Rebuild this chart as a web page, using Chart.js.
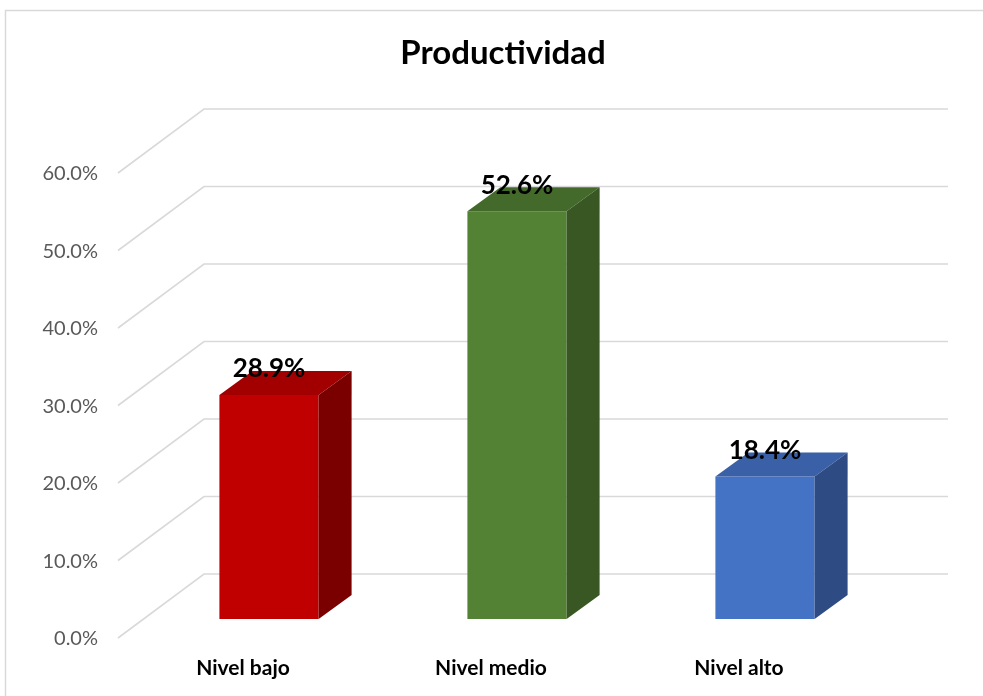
<!DOCTYPE html>
<html>
<head>
<meta charset="utf-8">
<title>Productividad</title>
<script src="https://cdn.jsdelivr.net/npm/chart.js@4.4.1/dist/chart.umd.min.js"></script>
<style>
    body { margin: 0; background: #fff; }
    canvas { display: block; }
</style>
</head>
<body>
<canvas id="chartData" width="983" height="696"></canvas>
<script>
    const chartTitle = "Productividad";
    const categories = ["Nivel bajo", "Nivel medio", "Nivel alto"];
    const percentages = [28.9, 52.6, 18.4];
    const tickValues = [0, 10, 20, 30, 40, 50, 60];

    const frontColors = ["#C00000", "#548235", "#4472C4"];
    const topColors = ["#A20000", "#43692B", "#3A61A8"];
    const sideColors = ["#7A0000", "#385723", "#2E4B84"];

    // depth of the bars and of the walls (excel 3d look)
    const DX = 33, DY = 24;
    const BACK_DX = 59, BACK_DY = 45;
    const FRONT_DX = -27, FRONT_DY = 19;

    const ctx = document.getElementById("chartData");

    // outer border + title (title is centred on the whole picture, not the plot)
    const frame = {
        id: "frame",
        beforeDraw(chart) {
            const c = chart.ctx;
            c.save();
            c.strokeStyle = "#d9d9d9";
            c.lineWidth = 1.5;
            c.strokeRect(5.5, 10.5, 1200, 1200);
            c.fillStyle = "#000";
            c.font = "bold 33px Lato";
            c.textAlign = "center";
            c.textBaseline = "middle";
            c.fillText(chartTitle, 503, 53);
            c.restore();
        }
    };

    const walls = {
        id: "walls",
        beforeDatasetsDraw(chart) {
            const c = chart.ctx;
            const y = chart.scales.y;
            const area = chart.chartArea;
            c.save();
            c.strokeStyle = "#d9d9d9";
            c.lineWidth = 1.6;
            tickValues.forEach(v => {
                const py = y.getPixelForValue(v);
                c.beginPath();
                c.moveTo(area.left + FRONT_DX, py + FRONT_DY);
                c.lineTo(area.left + BACK_DX, py - BACK_DY);
                c.lineTo(area.right + BACK_DX, py - BACK_DY);
                c.stroke();
            });
            c.restore();
        }
    };

    const bars3d = {
        id: "bars3d",
        afterDatasetsDraw(chart) {
            const c = chart.ctx;
            const meta = chart.getDatasetMeta(0);
            c.save();
            meta.data.forEach((bar, i) => {
                const p = bar.getProps(["x", "y", "base", "width"], true);
                const l = p.x - p.width / 2;
                const r = p.x + p.width / 2;

                c.fillStyle = topColors[i];
                c.beginPath();
                c.moveTo(l, p.y);
                c.lineTo(l + DX, p.y - DY);
                c.lineTo(r + DX, p.y - DY);
                c.lineTo(r, p.y);
                c.closePath();
                c.fill();

                c.fillStyle = sideColors[i];
                c.beginPath();
                c.moveTo(r, p.y);
                c.lineTo(r + DX, p.y - DY);
                c.lineTo(r + DX, p.base - DY);
                c.lineTo(r, p.base);
                c.closePath();
                c.fill();
            });

            // value labels
            c.fillStyle = "#000";
            c.font = "bold 26px Lato";
            c.textAlign = "center";
            c.textBaseline = "middle";
            meta.data.forEach((bar, i) => {
                c.fillText(percentages[i].toFixed(1) + "%", bar.x, bar.y - 26);
            });
            c.restore();
        }
    };

    new Chart(ctx, {
        type: "bar",
        data: {
            labels: categories,
            datasets: [{
                label: chartTitle,
                data: percentages,
                backgroundColor: frontColors,
                borderWidth: 0,
                barPercentage: 0.4,
                categoryPercentage: 1,
            }, ],
        },
        options: {
            responsive: false,
            devicePixelRatio: 1,
            animation: false,
            layout: {
                padding: { left: 0, right: 94, top: 154, bottom: 0 },
            },
            plugins: {
                legend: { display: false },
                tooltip: { enabled: false },
                title: { display: false },
            },
            scales: {
                x: {
                    grid: { display: false, drawTicks: false },
                    border: { display: false },
                    ticks: {
                        color: "#000",
                        font: { family: "Lato", size: 21, weight: "bold" },
                        padding: 37,
                        labelOffset: -26,
                    },
                    afterFit: s => { s.height = 77; },
                },
                y: {
                    min: 0,
                    max: 60,
                    grid: { display: false, drawTicks: false },
                    border: { display: false },
                    ticks: {
                        stepSize: 10,
                        color: "#595959",
                        font: { family: "Lato", size: 20 },
                        padding: 47,
                        labelOffset: 20,
                        callback: v => v.toFixed(1) + "%",
                    },
                    afterFit: s => { s.width = 145; },
                },
            },
        },
        plugins: [frame, walls, bars3d],
    });
</script>
</body>
</html>
